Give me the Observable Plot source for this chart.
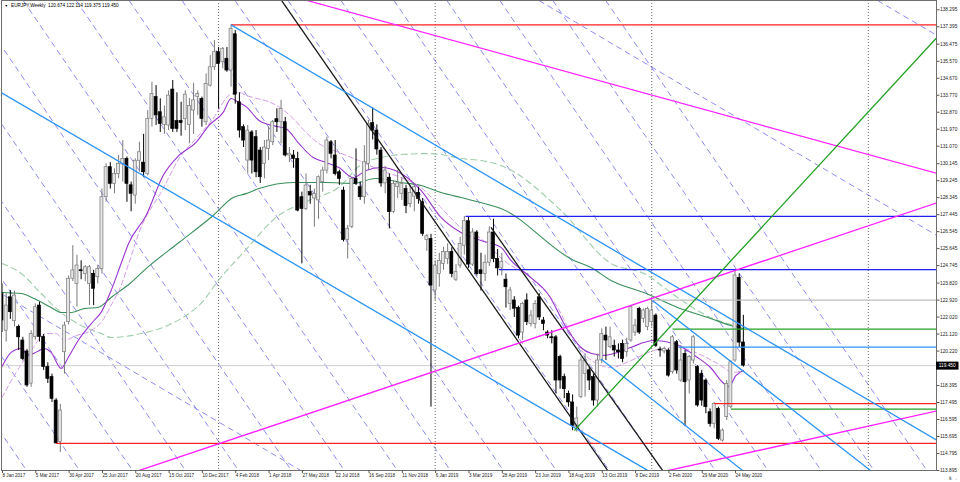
<!DOCTYPE html>
<html><head><meta charset="utf-8">
<script src="https://cdn.jsdelivr.net/npm/d3@7"></script>
<script src="https://cdn.jsdelivr.net/npm/@observablehq/plot@0.6"></script>
<style>html,body{margin:0;padding:0;background:#fff}#chart svg{display:block}</style>
</head><body><div id="chart"></div>
<script>
// ---------- data (weekly bars from 8 Jan 2017, one bar per week) ----------
const firstBar = "8 Jan 2017";
const titleText = "EURJPY,Weekly  120.674 122.114 119.375 119.450";

const openP = [123.25,121.30,123.07,121.80,121.50,120.78,120.20,118.50,120.96,122.63,120.96,119.37,118.84,117.60,115.40,120.16,121.75,124.05,123.78,124.50,
124.31,123.78,124.31,124.13,124.57,128.37,129.96,129.08,129.60,130.10,130.40,129.00,128.46,130.30,130.20,129.60,132.52,133.67,132.87,132.20,
132.17,134.07,132.40,132.40,132.50,132.20,132.96,133.67,133.58,132.34,134.28,135.25,136.05,135.52,135.70,135.08,137.00,133.40,132.08,130.31,
131.80,131.55,130.84,130.14,130.93,131.28,132.50,132.34,132.34,130.58,130.58,130.40,128.37,127.75,128.64,128.30,128.20,129.17,129.78,131.28,
130.58,129.69,128.72,126.10,126.80,129.34,128.90,128.37,130.14,132.30,131.90,130.84,129.10,129.40,127.58,128.90,128.55,128.80,128.00,128.40,
128.60,128.10,126.10,126.16,123.43,124.30,124.84,125.10,125.46,124.00,124.75,125.80,127.10,124.80,126.50,124.50,124.30,124.90,126.50,125.10,
124.60,124.00,122.72,122.90,122.50,121.20,122.90,121.66,121.66,123.07,121.84,121.20,120.95,120.95,119.90,118.84,117.95,117.50,116.20,117.78,
119.00,119.20,118.84,117.60,119.72,121.04,120.43,120.50,120.25,120.60,120.16,120.78,121.20,122.45,121.93,121.49,121.75,122.10,120.30,120.20,
120.25,119.10,120.69,118.66,120.07,118.66,119.72,119.37,119.00,118.66,116.98,116.36,117.16,115.48,116.72,117.25,119.72,124.10,120.674];
const highP = [123.78,123.25,123.43,123.40,121.60,120.95,120.30,121.30,122.72,122.80,121.10,119.60,119.00,117.70,117.40,121.75,124.20,125.80,125.30,125.00,
124.75,124.75,124.50,124.75,128.80,130.14,130.20,129.87,130.58,131.37,130.50,129.17,130.40,131.28,131.70,132.96,134.46,134.28,133.58,133.20,
134.00,134.55,133.90,133.40,134.00,133.60,134.40,134.00,133.67,134.90,135.87,136.67,136.30,136.30,136.30,137.50,137.20,133.90,132.20,132.17,
131.90,131.90,131.00,131.37,132.08,132.43,133.05,133.50,132.60,131.00,130.84,130.75,128.64,129.60,129.00,128.80,129.50,129.96,131.55,131.37,
131.37,129.80,128.90,126.87,129.43,130.93,129.17,131.10,132.43,133.10,132.20,131.00,130.00,129.60,129.25,129.80,129.40,129.00,129.00,129.10,
128.90,128.30,126.40,126.40,125.00,125.40,125.72,125.90,125.70,124.80,126.25,127.35,127.30,126.70,126.60,125.40,125.30,126.80,127.20,125.60,
125.40,124.30,123.60,123.10,122.60,122.80,123.25,122.37,122.90,123.25,122.00,121.30,121.30,121.04,120.00,119.00,118.10,117.90,117.25,119.90,
120.07,119.37,119.00,120.07,121.40,121.49,121.49,120.80,120.60,120.80,120.90,122.63,121.90,122.54,122.45,122.54,122.90,122.19,120.43,120.43,
120.34,121.04,120.78,120.51,120.25,119.98,121.04,119.45,119.20,118.75,117.16,117.50,117.25,116.10,118.66,119.72,124.49,124.30,122.114];
const lowP = [121.20,120.70,121.90,121.50,120.25,119.70,118.30,118.30,120.80,120.70,119.20,118.50,117.50,115.30,114.85,119.00,121.60,123.90,122.55,124.00,
123.90,122.63,122.63,123.78,124.30,128.10,128.80,128.55,129.34,129.17,128.10,127.60,128.00,129.70,129.43,129.50,132.08,132.17,131.80,131.70,
131.90,131.80,131.80,131.60,131.90,131.20,131.70,132.70,132.08,132.17,134.20,135.08,133.05,135.17,134.99,134.20,133.30,131.50,131.00,129.60,
129.60,129.40,129.10,129.34,130.31,131.10,131.80,131.20,130.50,130.20,129.90,127.60,124.84,127.66,128.00,126.78,127.20,128.64,129.60,130.40,
129.50,129.00,126.00,125.10,126.70,128.99,128.20,128.00,129.78,131.40,130.60,128.90,128.55,126.69,127.50,128.30,128.20,127.50,127.80,127.60,
128.00,126.30,125.50,117.25,122.90,123.60,124.50,124.80,124.10,123.90,124.60,125.30,124.60,124.70,124.20,123.40,123.90,124.70,124.90,124.20,
124.20,122.50,122.37,122.00,120.87,120.78,121.57,121.50,121.40,121.84,121.30,120.87,120.60,117.95,118.20,117.70,117.25,116.00,115.92,117.70,
117.78,118.13,117.30,117.25,119.55,119.72,120.34,119.90,119.80,119.60,119.90,120.69,121.00,121.10,121.70,121.30,121.49,120.42,119.90,120.07,
118.84,119.00,119.00,118.57,116.28,117.95,119.54,117.25,117.30,116.90,116.19,116.10,115.48,115.40,116.54,117.16,119.63,120.40,119.375];
const closeP = [121.84,122.63,122.28,123.16,120.95,119.80,118.40,121.13,122.54,120.96,119.37,118.75,117.69,115.33,117.07,121.57,124.05,124.49,124.75,124.45,
124.66,124.66,123.52,124.57,128.37,129.96,129.08,129.60,130.14,130.40,129.08,128.55,130.30,130.75,129.69,132.52,133.84,132.70,132.25,132.60,
133.75,131.99,131.99,132.30,133.80,133.20,133.50,133.84,132.52,134.37,135.25,136.05,135.43,136.23,135.08,137.29,133.80,131.90,131.37,131.90,
130.31,129.69,129.43,131.00,131.37,132.34,132.34,133.05,130.58,130.67,130.40,127.66,127.75,128.99,128.46,128.55,129.43,129.78,131.37,130.67,
129.60,129.34,126.10,126.70,129.34,129.08,128.37,130.22,132.25,131.90,130.90,129.10,129.78,127.58,129.08,129.10,129.08,127.90,128.60,128.90,
128.28,126.43,126.30,123.69,124.75,125.00,125.46,125.46,124.30,124.40,125.90,127.10,124.80,126.50,124.30,124.30,124.90,126.50,125.10,124.60,
124.95,123.60,123.43,122.46,121.04,122.72,121.75,122.10,122.72,122.00,121.66,121.04,120.90,118.66,118.66,118.20,117.50,116.25,116.65,119.72,
119.72,118.66,117.60,119.72,121.13,120.78,120.95,120.25,120.16,119.80,120.60,122.54,121.57,121.20,122.37,122.45,122.37,120.50,120.25,120.34,
118.92,120.95,119.19,119.72,118.57,119.90,120.95,117.34,117.60,117.25,116.36,117.43,115.57,116.01,118.48,119.63,124.22,120.67,119.45];

// moving averages: [week, price]
const maFast = [[0,119.40],[2.2,120.15],[4.6,120.36],[6.3,119.99],[8.5,120.2],[10.1,120.36],[11.8,120.15],[14.2,119.30],[15.9,119.88],[18.3,120.78],[22.1,121.84],[23.8,122.27],[26.2,123.43],[28.6,124.86],[30.5,125.97],[34.6,127.40],[38.7,129.52],[42.5,130.58],[46.6,131.27],[49.7,132.17],[53.1,132.86],[55.0,133.6],[56.9,133.38],[58.6,133.17],[61.7,132.43],[65.1,132.16],[68.2,132.0],[71.3,131.21],[74.7,130.47],[77.8,130.21],[80.9,129.94],[84.3,129.41],[87.4,129.78],[91,129.94],[95.8,129.63],[100.6,128.73],[105.4,127.30],[110.2,126.5],[115,126.08],[119.8,125.71],[122.2,125.02],[126.5,124.2],[131.0,123.27],[135.9,121.31],[139,120.41],[141.4,120.10],[144.5,119.99],[147.8,120.15],[150.9,120.41],[156.5,120.78],[161.3,120.62],[167,119.88],[170.1,119.35],[173.3,118.50],[174.5,118.34],[176.2,118.92],[178,119.19]];
const maSlow = [[0,117.76],[3.4,119.09],[7.0,120.25],[10.6,121.15],[13,121.15],[14.9,120.78],[17.8,121.04],[21.4,121.31],[23.8,121.74],[26.2,122.64],[28.6,123.70],[30.5,124.91],[32.9,126.50],[38.7,128.83],[42.5,130.42],[46.6,131.48],[50.7,132.54],[54.5,133.76],[56.9,133.92],[58.6,133.76],[60.3,133.65],[65.1,133.33],[69.9,132.54],[73,131.80],[76.1,131.21],[80.9,130.74],[85.7,130.31],[91,129.78],[95.8,129.41],[100.6,128.88],[105.4,127.82],[110.2,126.76],[115,126.18],[120.5,125.02],[127.7,123.96],[133.4,122.53],[136.6,121.15],[139.7,120.10],[143.8,119.46],[146.2,119.35],[151,119.72],[156.5,120.25],[162.2,120.41],[167,120.10],[171.8,119.56],[175.7,119.09],[178,119.19]];
const maMid = [[0,123.32],[4.6,123.27],[7.7,123.0],[11.8,122.53],[14.2,122.26],[16.6,122.26],[19.7,122.47],[23.1,122.53],[26.2,123.06],[31,123.85],[34.6,124.59],[42.5,125.97],[50.7,127.40],[55.5,128.35],[58.6,128.56],[61.7,128.83],[69.9,129.15],[77.8,129.15],[84.3,129.10],[89.8,129.36],[95.8,129.15],[100.6,128.99],[105.4,128.62],[110.2,128.35],[115,128.09],[119.8,127.77],[137.3,125.02],[141.4,124.65],[146.2,123.96],[154.1,123.32],[162.2,122.53],[170.1,121.95],[175,121.57],[178,121.41]];
const maLong = [[0,124.86],[4.6,124.33],[9.4,123.27],[14.2,122.26],[19,121.57],[23.8,121.15],[26.2,120.94],[31,121.04],[47.3,122.64],[52.1,124.0],[58.6,125.6],[65.8,127.30],[73.7,128.20],[80.9,128.9],[86.2,130.1],[91,130.47],[95.8,130.63],[102.3,130.68],[105.4,130.63],[110.2,130.42],[115,130.31],[119.8,130.05],[134.2,127.67],[146.2,124.86],[154.1,124.33],[162.2,123.06],[170.1,122.0],[174.2,121.68],[178,121.47]];

// horizontal levels: [start week, price]
const redLevels = [[55,137.50],[13,115.33],[171,117.44]];
const blueLevels = [[111.3,127.35],[119.3,124.53]];
const greenLevels = [[161,121.38],[175,117.15]];
const skyLevels = [[162.5,120.43]];
const grayLevels = [[156,122.92]];
const bidPrice = 119.45;

// trend lines: [week1, price1, week2, price2]
const blackLines = [[67.1,138.79,145.4,113.90],[117.4,126.77,158.6,113.90]];
const skyLines = [[-0.2,133.91,155.0,113.90],[55,137.50,224.4,115.50],[156.2,122.90,208.5,113.90],[143.8,119.80,177.8,113.90]];
const magentaLines = [[73.2,138.79,224.4,129.64],[33.0,113.90,224.4,128.07],[160.1,113.90,224.4,117.05]];
const greenLines = [[137.4,116.01,224.4,136.81]];
// grid of dashed lines (week at top edge 138.79 -> week at bottom edge 113.90)
const gridSteepTop = [144.96,132.24,119.53,106.81,94.10,81.38,68.66,55.95,43.23,30.52,17.80,5.08,-7.63,-20.35,-33.07,-45.78,-58.50,-71.21];
const gridSteepSpan = 77.11;
const gridShallow = [[-119.4,138.79,71.7,113.90],[128.9,138.79,224.4,126.35],[210.2,138.79,224.4,136.95]];
const separators = ["7 Jan 2018","6 Jan 2019","5 Jan 2020","3 Jan 2021"];

const xTickLabels = ["8 Jan 2017","5 Mar 2017","30 Apr 2017","25 Jun 2017","20 Aug 2017","15 Oct 2017","10 Dec 2017","4 Feb 2018","1 Apr 2018","27 May 2018","22 Jul 2018","16 Sep 2018","11 Nov 2018","6 Jan 2019","3 Mar 2019","28 Apr 2019","23 Jun 2019","18 Aug 2019","13 Oct 2019","8 Dec 2019","2 Feb 2020","29 Mar 2020","24 May 2020"];
const yTicks = [138.295,137.395,136.475,135.570,134.670,133.770,132.870,131.970,131.070,130.145,129.245,128.345,127.445,126.545,125.645,124.745,123.820,122.920,122.020,121.120,120.220,118.395,117.495,116.595,115.695,114.795,113.895];

// ---------- helpers ----------
const parse = d3.utcParse("%d %b %Y");
const t0 = parse(firstBar);
const toWeek = s => Math.round((parse(s) - t0) / (7 * 864e5));
const xTickWeeks = xTickLabels.map(toWeek);
const labelByWeek = new Map(xTickWeeks.map((w, k) => [w, xTickLabels[k]]));
const candles = openP.map((o, k) => ({k, o, h: highP[k], l: lowP[k], c: closeP[k]}));
const up = d => d.c >= d.o;
const xDomain = [-0.12, 224.37];
const xMax = xDomain[1];

const seg = (arr, stroke, extra = {}) => Plot.link(arr, {x1: d => d[0], y1: d => d[1], x2: d => d[2], y2: d => d[3], stroke, strokeWidth: 1.3, clip: true, ...extra});
const lvl = (arr, stroke, extra = {}) => Plot.link(arr, {x1: d => d[0], y1: d => d[1], x2: () => xMax, y2: d => d[1], stroke, strokeWidth: 1.3, clip: true, ...extra});
const ma = (arr, stroke, extra = {}) => Plot.line(arr, {x: d => d[0], y: d => d[1], stroke, strokeWidth: 1.1, curve: "monotone-x", clip: true, ...extra});

const lav = "#8d8df2";
const chart = Plot.plot({
  width: 960, height: 482,
  marginLeft: 1, marginRight: 24, marginTop: 0, marginBottom: 12,
  style: {fontFamily: "'Liberation Sans', Arial, sans-serif", background: "#fff", overflow: "visible"},
  x: {type: "linear", domain: xDomain},
  y: {type: "linear", domain: [113.895, 138.788]},
  marks: [
    // dashed grid
    Plot.link(gridSteepTop, {x1: d => d, y1: () => 138.79, x2: d => d + gridSteepSpan, y2: () => 113.90, stroke: lav, strokeWidth: 1, strokeDasharray: "6,4", clip: true}),
    seg(gridShallow, lav, {strokeWidth: 1, strokeDasharray: "6,4"}),
    // period separators
    Plot.ruleX(separators, {x: toWeek, stroke: "#444", strokeWidth: 0.8, strokeDasharray: "1,2"}),
    // bid line
    Plot.ruleY([bidPrice], {stroke: "#cfcfcf", strokeWidth: 1}),
    // moving averages
    ma(maLong, "#9fcdab", {strokeDasharray: "6,4"}),
    ma(maMid, "#3a8f5c"),
    ma(maSlow, "#d49be6", {strokeDasharray: "5,3", strokeWidth: 1}),
    ma(maFast, "#9a35cf"),
    // candles
    Plot.ruleX(candles, {x: "k", y1: "l", y2: "h", stroke: d => up(d) ? "#7a7a7a" : "#000", strokeWidth: 1, clip: true}),
    Plot.rect(candles, {x1: d => d.k - 0.36, x2: d => d.k + 0.36, y1: "o", y2: "c",
      fill: d => up(d) ? "#e4e4e4" : "#000", stroke: d => up(d) ? "#7a7a7a" : "#000", strokeWidth: 0.7, clip: true}),
    // horizontal levels
    lvl(grayLevels, "#bdbdbd"),
    lvl(redLevels, "#ff2020"),
    lvl(blueLevels, "#1f1ff0"),
    lvl(greenLevels, "#22a022"),
    lvl(skyLevels, "#2b93f5"),
    // trend lines
    seg(blackLines, "#1a1a1a"),
    seg(skyLines, "#2b93f5"),
    seg(magentaLines, "#ff22ff"),
    seg(greenLines, "#22a022"),
    // frame & axes
    Plot.frame({stroke: "#6e6e6e", strokeWidth: 1}),
    Plot.axisY(yTicks, {anchor: "right", tickSize: 2.5, tickPadding: 1, fontSize: 4.8, tickFormat: d => d.toFixed(3), stroke: "#555", fill: "#222"}),
    Plot.axisX(xTickWeeks, {anchor: "bottom", tickSize: 3, tickPadding: 0.5, fontSize: 4.6, textAnchor: "start", dx: 0.5, tickFormat: d => labelByWeek.get(d), stroke: "#555", fill: "#222"}),
    // current price box
    Plot.ruleY([bidPrice], {x1: () => xMax, x2: () => xMax + 5.4, stroke: "#000", strokeWidth: 8, clip: false}),
    Plot.text([bidPrice], {x: () => xMax, y: d => d, dx: 2.2, text: d => d.toFixed(3), fill: "#fff", textAnchor: "start", fontSize: 4.8, clip: false}),
    // title
    Plot.text(["\u25BC"], {frameAnchor: "top-left", dx: 3, dy: 3.6, fontSize: 3.6, fill: "#000", textAnchor: "start"}),
    Plot.text([titleText], {frameAnchor: "top-left", dx: 9.5, dy: 3.3, fontSize: 4.7, fill: "#000", textAnchor: "start"})
  ]
});
document.getElementById("chart").appendChild(chart);
</script>
</body></html>
